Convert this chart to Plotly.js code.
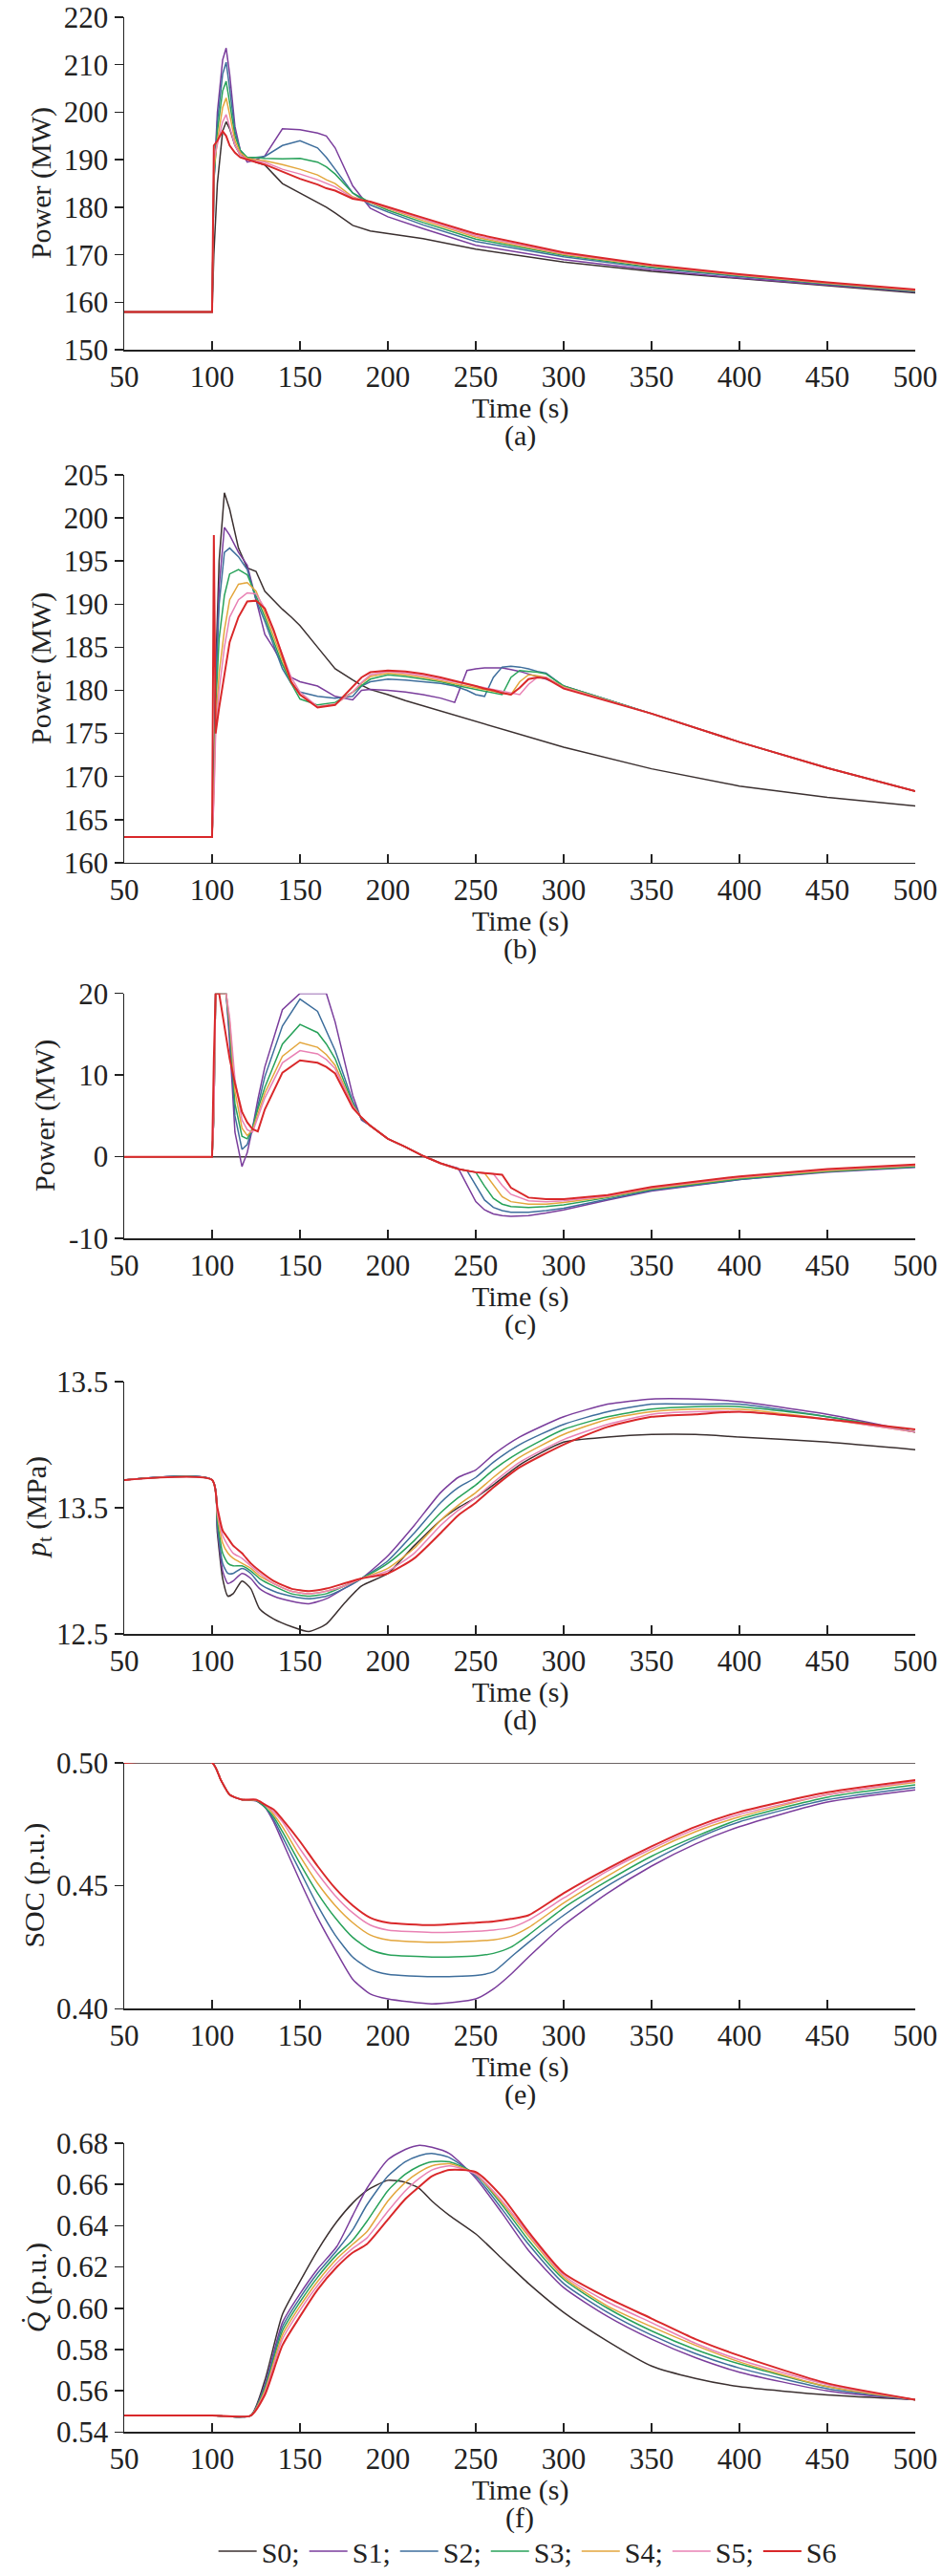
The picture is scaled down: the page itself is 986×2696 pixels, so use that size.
<!DOCTYPE html>
<html>
<head>
<meta charset="utf-8">
<script src="https://cdn.plot.ly/plotly-3.0.1.min.js"></script>
<style>body{margin:0;background:#fff}#chart{width:986px;height:2696px}</style>
</head>
<body>
<div id="chart"></div>
<script>
"use strict";

var names = ["S0;", "S1;", "S2;", "S3;", "S4;", "S5;", "S6"];
var colors = ["#3b3030", "#7a3d9c", "#3e6e9c", "#28a25a", "#e3a63c", "#e982b4", "#d9282a"];

// (a) power
var tA = [50,100,101,103,106,108,110,113,116,120,125,130,140,150,160,165,170,180,190,200,220,250,300,350,400,450,500];
var a0 = [158,158,170,185,196,198,196.5,193,191,190.5,189.5,188.9,185,183,181,180,178.8,176.2,175,174.5,173.4,171.2,168.5,166.5,165,163.5,162];
var a1 = [158,158,185,200,211,213.5,208,197,192,189.5,190,190.8,196.5,196.3,195.6,195,192.5,184.5,179.8,178,175.5,172,169,166.8,165.1,163.6,162.2];
var a2 = [158,158,185,198,208,210.5,205,196,192,190.3,190.5,190.7,193,194,192.5,190.5,188,183,180.5,179,176.3,172.8,169.6,167.2,165.4,163.8,162.3];
var a3 = [158,158,186,196,204.5,206.5,202,195,192,190.5,190.5,190.3,190.2,190.3,189.5,188.5,187,183,181,179.4,176.8,173.3,169.9,167.4,165.6,163.9,162.4];
var a4 = [158,158,188,194,201,203,199.5,194,191.5,190.3,190,189.8,189,188,186.8,185.8,185,182.2,181,179.7,177.2,173.7,170.1,167.6,165.7,164,162.5];
var a5 = [158,158,190,193,198,199.5,197,193,191,190,189.7,189.5,188,187,185.8,185,184.3,182,181.1,179.9,177.5,174,170.3,167.8,165.8,164.1,162.6];
var a6 = [158,158,193,194,196,195,193,191.5,190.5,190,189.5,189,187.5,186,184.8,184,183.5,181.8,181.2,180.1,177.8,174.4,170.5,167.9,165.9,164.2,162.7];

// (b) power
var tB = [50,100,101,102,104,107,110,115,120,125,130,135,140,145,150,160,170,180,185,190,200,210,220,230,238,245,250,255,260,265,270,275,280,285,290,300,350,400,450,500];
var b0 = [163,163,170,182,195,202.9,201,196.5,194.2,193.8,191.5,190.4,189.4,188.5,187.5,185,182.5,181.2,180.6,180.1,179.5,178.8,178.2,177.6,177.1,176.7,176.4,176.1,175.8,175.5,175.2,174.9,174.6,174.3,174,173.4,170.9,168.9,167.6,166.6];
var b1 = [163,163,170,180,192,198.9,198,196,194.5,190.5,186.5,184.9,183,181.5,181,180.5,179.3,178.9,180,180.1,180,179.8,179.5,179.1,178.6,182.3,182.5,182.6,182.6,182.6,182.4,182.2,181.9,181.6,181.3,180.5,177.3,174,171,168.3];
var b2 = [163,163,170,180,190,196,196.5,195.5,194,190.5,188,185.3,182.5,180.8,179.8,179.3,179.1,179.3,180.5,181,181.3,181.2,181,180.8,180.5,180,179.5,179.3,181.5,182.7,182.8,182.7,182.5,182.2,182,180.5,177.3,174,171,168.3];
var b3 = [163,163,170,178,186,191,193.5,194,193.4,191,188.5,185.7,183,180.8,179,178.3,178.6,179.8,180.6,181.3,181.8,181.6,181.3,181,180.6,180.3,180.1,179.9,179.7,179.5,181.5,182.3,182.2,182.1,181.9,180.5,177.3,174,171,168.3];
var b4 = [163,163,168,176,182,187,190.5,192.3,192.5,191.5,189,186.2,183.5,181,179.5,178.1,178.4,179.8,180.8,181.6,182,181.8,181.5,181.1,180.8,180.5,180.3,180.1,179.9,179.7,179.5,181,181.8,181.7,181.5,180.4,177.3,174,171,168.3];
var b5 = [163,163,167,175,180,185,188.5,190.5,191.3,191.2,189.5,186.8,184,181.5,179.8,178.1,178.4,179.8,180.9,181.8,182.2,182,181.7,181.3,181,180.7,180.5,180.3,180.1,179.9,179.7,179.5,180.7,181.5,181.5,180.3,177.3,174,171,168.3];
var b6 = [163,163,198,175,178,182,185.6,188.5,190.3,190.4,189.5,187,184,181,179.5,178,178.3,180.5,181.5,182.1,182.3,182.2,181.9,181.5,181.1,180.8,180.5,180.2,180,179.7,179.5,180.3,181.3,181.5,181.4,180.2,177.3,174,171,168.3];

// (c) storage power
var tC = [50,100,101,102,104,108,110,113,117,120,123,126,130,140,150,160,165,170,180,185,190,200,210,220,230,240,245,250,255,260,265,270,280,290,300,325,350,400,450,500];
var c0 = [0,0,0,0,0,0,0,0,0,0,0,0,0,0,0,0,0,0,0,0,0,0,0,0,0,0,0,0,0,0,0,0,0,0,0,0,0,0,0,0];
var c1 = [0,0,5,20,20,20,14,3,-1.2,0.5,3.5,7,11,18,20,20,20,16.5,7.5,4.5,3.8,2.2,1.2,0.1,-0.8,-1.4,-3.5,-5.5,-6.5,-7,-7.2,-7.3,-7.2,-6.9,-6.5,-5.3,-4.2,-2.8,-1.9,-1.3];
var c2 = [0,0,5,20,20,20,15,5,0.9,1.5,3.5,6.3,9.8,16,19.3,17.8,15.5,13,6.8,4.6,3.8,2.2,1.2,0.1,-0.8,-1.5,-1.7,-3.5,-5.3,-6.2,-6.6,-6.8,-6.8,-6.6,-6.3,-5.2,-4.1,-2.8,-1.8,-1.25];
var c3 = [0,0,5,20,20,20,16,6.5,2.5,2.2,3.5,5.8,8.5,13.8,16.2,15.2,13.8,12,6.5,4.7,3.8,2.2,1.2,0.1,-0.8,-1.5,-1.7,-1.9,-3.6,-5.1,-5.8,-6.1,-6.2,-6.1,-5.9,-5,-4,-2.7,-1.8,-1.2];
var c4 = [0,0,5,20,20,20,16.5,8,3.5,2.6,3.3,5.2,7.8,12.3,14,13.4,12.5,11.2,6.3,4.8,3.8,2.2,1.2,0.1,-0.8,-1.5,-1.7,-1.9,-2,-3.5,-4.9,-5.5,-5.8,-5.8,-5.6,-4.9,-3.9,-2.6,-1.7,-1.1];
var c5 = [0,0,5,20,20,20,17,9.5,4.5,3.3,3,4.7,7.2,11.5,13,12.6,11.9,10.8,6.2,4.8,3.8,2.2,1.2,0.1,-0.8,-1.5,-1.7,-1.9,-2,-2.1,-3.5,-4.6,-5.4,-5.5,-5.4,-4.8,-3.8,-2.5,-1.6,-1.05];
var c6 = [0,0,12,20,20,15,12,9,5.5,4.2,3.4,3.1,5.8,10.3,11.8,11.5,11,10.2,6,4.8,3.8,2.2,1.2,0.1,-0.8,-1.5,-1.7,-1.9,-2,-2.1,-2.2,-3.8,-5,-5.2,-5.2,-4.7,-3.7,-2.4,-1.5,-0.95];

// (d) main steam pressure
var tD = [50,100,103,106,109,112,117,122,127,135,145,155,165,175,185,200,215,230,240,250,260,275,300,325,350,375,400,450,500];
var d0 = [13.11,13.11,12.9,12.72,12.65,12.66,12.71,12.68,12.6,12.56,12.53,12.51,12.54,12.62,12.69,12.74,12.85,12.95,13.0,13.04,13.09,13.17,13.26,13.28,13.29,13.29,13.28,13.26,13.23];
var d1 = [13.11,13.11,12.92,12.75,12.7,12.71,12.74,12.72,12.68,12.65,12.63,12.62,12.64,12.68,12.72,12.81,12.93,13.06,13.12,13.15,13.21,13.28,13.36,13.41,13.43,13.43,13.42,13.37,13.30];
var d2 = [13.11,13.11,12.93,12.78,12.74,12.74,12.76,12.74,12.7,12.67,12.65,12.64,12.65,12.68,12.72,12.79,12.9,13.02,13.08,13.12,13.18,13.25,13.33,13.38,13.41,13.41,13.41,13.36,13.30];
var d3 = [13.11,13.11,12.95,12.82,12.78,12.77,12.77,12.75,12.72,12.69,12.66,12.65,12.66,12.69,12.72,12.78,12.87,12.98,13.04,13.09,13.15,13.22,13.31,13.36,13.39,13.40,13.40,13.36,13.30];
var d4 = [13.11,13.11,12.97,12.86,12.82,12.8,12.78,12.76,12.73,12.7,12.67,12.66,12.67,12.69,12.72,12.76,12.84,12.95,13.01,13.06,13.12,13.2,13.29,13.35,13.38,13.39,13.39,13.35,13.30];
var d5 = [13.11,13.11,12.98,12.89,12.85,12.82,12.8,12.77,12.74,12.7,12.67,12.66,12.67,12.69,12.72,12.75,12.82,12.93,12.99,13.04,13.1,13.18,13.27,13.33,13.37,13.38,13.38,13.35,13.30];
var d6 = [13.11,13.11,13.0,12.91,12.88,12.85,12.82,12.78,12.75,12.71,12.68,12.67,12.68,12.7,12.72,12.74,12.8,12.9,12.97,13.02,13.08,13.16,13.25,13.32,13.36,13.37,13.38,13.35,13.31];

// (e) SOC
var tE = [50,100,105,110,117,125,130,135,140,150,160,170,180,190,200,225,250,260,270,280,300,325,350,375,400,450,500];
var e0 = [.5,.5,.5,.5,.5,.5,.5,.5,.5,.5,.5,.5,.5,.5,.5,.5,.5,.5,.5,.5,.5,.5,.5,.5,.5,.5,.5];
var e1 = [.5,.5,.493,.487,.485,.4845,.482,.476,.468,.452,.437,.424,.412,.406,.404,.402,.404,.408,.414,.421,.434,.447,.458,.467,.474,.484,.489];
var e2 = [.5,.5,.493,.487,.485,.4846,.482,.477,.470,.456,.442,.430,.421,.416,.414,.413,.4135,.415,.421,.427,.438,.450,.460,.469,.476,.485,.490];
var e3 = [.5,.5,.493,.487,.485,.4847,.482,.478,.472,.459,.447,.437,.429,.424,.422,.421,.4215,.4225,.425,.43,.441,.452,.462,.47,.477,.486,.491];
var e4 = [.5,.5,.493,.487,.485,.4848,.483,.479,.474,.462,.451,.442,.435,.430,.428,.427,.4275,.428,.4295,.433,.443,.454,.464,.472,.478,.487,.492];
var e5 = [.5,.5,.493,.487,.485,.4849,.483,.480,.476,.465,.455,.446,.439,.434,.432,.431,.4315,.432,.433,.436,.445,.456,.465,.473,.479,.487,.4925];
var e6 = [.5,.5,.493,.487,.485,.485,.483,.481,.477,.468,.458,.449,.442,.437,.435,.434,.435,.4355,.4365,.438,.447,.457,.466,.474,.480,.488,.493];

// (f) heat flow
var tF = [50,100,122,130,140,150,160,171,180,188,200,210,218,225,235,250,265,280,300,325,350,375,400,450,500];
var f0 = [.548,.548,.548,.565,.597,.613,.628,.642,.651,.657,.662,.661,.658,.652,.645,.636,.624,.612,.598,.584,.572,.566,.562,.558,.5557];
var f1 = [.548,.548,.548,.563,.593,.607,.619,.630,.645,.658,.672,.677,.679,.678,.675,.663,.646,.628,.610,.596,.585,.576,.569,.560,.5557];
var f2 = [.548,.548,.548,.562,.591,.605,.617,.628,.638,.65,.664,.671,.674,.675,.673,.664,.648,.631,.612,.598,.587,.578,.571,.561,.5557];
var f3 = [.548,.548,.548,.561,.589,.603,.615,.626,.633,.642,.657,.665,.669,.671,.671,.665,.65,.633,.614,.6,.589,.58,.573,.562,.5557];
var f4 = [.548,.548,.548,.56,.587,.601,.613,.624,.631,.637,.652,.661,.666,.669,.670,.665,.651,.635,.615,.601,.591,.582,.574,.562,.5557];
var f5 = [.548,.548,.548,.559,.585,.599,.611,.622,.629,.634,.647,.657,.663,.667,.669,.665,.652,.636,.616,.603,.593,.583,.575,.563,.5557];
var f6 = [.548,.548,.548,.558,.582,.596,.609,.62,.627,.631,.643,.653,.659,.664,.667,.666,.654,.637,.617,.605,.595,.585,.577,.5636,.5557];

var H = 2696;
var FONT = "Liberation Serif, Times New Roman, serif";

// panel pixel box top/bottom, ranges and labels
var panels = [
    {t: tA, s: [a0,a1,a2,a3,a4,a5,a6], top: 18, bot: 367, range: [150,220], tv: [150,160,170,180,190,200,210,220], tt: null, title: "Power (MW)", tx: 43, tag: "(a)", spline: false},
    {t: tB, s: [b0,b1,b2,b3,b4,b5,b6], top: 498, bot: 905, range: [160,205], tv: [160,165,170,175,180,185,190,195,200,205], tt: null, title: "Power (MW)", tx: 43, tag: "(b)", spline: false},
    {t: tC, s: [c0,c1,c2,c3,c4,c5,c6], top: 1042, bot: 1299, range: [-10,20], tv: [-10,0,10,20], tt: ["-10","0","10","20"], title: "Power (MW)", tx: 47, tag: "(c)", spline: false},
    {t: tD, s: [d0,d1,d2,d3,d4,d5,d6], top: 1449, bot: 1714, range: [12.5,13.5], tv: [12.5,13,13.5], tt: ["12.5","13.5","13.5"], title: "<i>p</i><sub>t</sub> (MPa)", tx: 40, tag: "(d)", spline: true},
    {t: tE, s: [e0,e1,e2,e3,e4,e5,e6], top: 1849, bot: 2107, range: [0.4,0.5], tv: [0.4,0.45,0.5], tt: ["0.40","0.45","0.50"], title: "SOC (p.u.)", tx: 36, tag: "(e)", spline: true},
    {t: tF, s: [f0,f1,f2,f3,f4,f5,f6], top: 2248, bot: 2551, range: [0.54,0.68], tv: [0.54,0.56,0.58,0.60,0.62,0.64,0.66,0.68], tt: ["0.54","0.56","0.58","0.60","0.62","0.64","0.66","0.68"], title: "<i>Q̇</i> (p.u.)", tx: 38, tag: "(f)", spline: true}
];

var data = [];
var layout = {
    width: 986, height: H,
    margin: {l: 0, r: 0, t: 0, b: 0},
    paper_bgcolor: "#fff", plot_bgcolor: "#fff",
    font: {family: FONT, size: 30, color: "#222"},
    showlegend: true,
    legend: {orientation: "h", x: 0.56, xanchor: "center", y: 1 - 2676 / H, yanchor: "middle",
        font: {family: FONT, size: 30, color: "#222"}, itemwidth: 40, tracegroupgap: 0, traceorder: "normal"},
    annotations: []
};

function py(p) { return 1 - p / H; }

panels.forEach(function (p, i) {
    var n = i + 1;
    var xk = "xaxis" + (n == 1 ? "" : n), yk = "yaxis" + (n == 1 ? "" : n);
    for (var j = 0; j < 7; j++) {
        data.push({
            x: p.t, y: p.s[j], type: "scatter", mode: "lines",
            xaxis: "x" + (n == 1 ? "" : n), yaxis: "y" + (n == 1 ? "" : n),
            name: names[j], legendgroup: "s" + j, showlegend: n == 6,
            line: {color: colors[j], width: j == 6 ? 2 : 1.5, shape: p.spline ? "spline" : "linear", smoothing: 0.6}
        });
    }
    layout[xk] = {
        domain: [130 / 986, 958 / 986], range: [50, 500], anchor: "y" + (n == 1 ? "" : n),
        tickvals: [50,100,150,200,250,300,350,400,450,500],
        ticks: "inside", ticklen: 9, tickwidth: 1.5, tickcolor: "#222",
        showline: true, linecolor: "#222", linewidth: 1.5, showgrid: false, zeroline: false,
        tickfont: {family: FONT, size: 31, color: "#222"}
    };
    var ya = {
        domain: [py(p.bot), py(p.top)], range: p.range, anchor: "x" + (n == 1 ? "" : n),
        tickvals: p.tv, ticks: "outside", ticklen: 9, tickwidth: 1.5, tickcolor: "#222",
        showline: true, linecolor: "#222", linewidth: 1.5, showgrid: false, zeroline: false,
        tickfont: {family: FONT, size: 31, color: "#222"}
    };
    if (p.tt) ya.ticktext = p.tt;
    layout[yk] = ya;
    layout.annotations.push({xref: "paper", yref: "paper", x: 544 / 986, y: py(p.bot + 61), text: "Time (s)",
        showarrow: false, font: {size: 30}, xanchor: "center", yanchor: "middle"});
    layout.annotations.push({xref: "paper", yref: "paper", x: 544 / 986, y: py(p.bot + 90), text: p.tag,
        showarrow: false, font: {size: 30}, xanchor: "center", yanchor: "middle"});
    layout.annotations.push({xref: "paper", yref: "paper", x: p.tx / 986, y: py((p.top + p.bot) / 2), text: p.title,
        showarrow: false, textangle: -90, font: {size: 30}, xanchor: "center", yanchor: "middle"});
});

Plotly.newPlot("chart", data, layout, {staticPlot: true});
</script>
</body>
</html>
